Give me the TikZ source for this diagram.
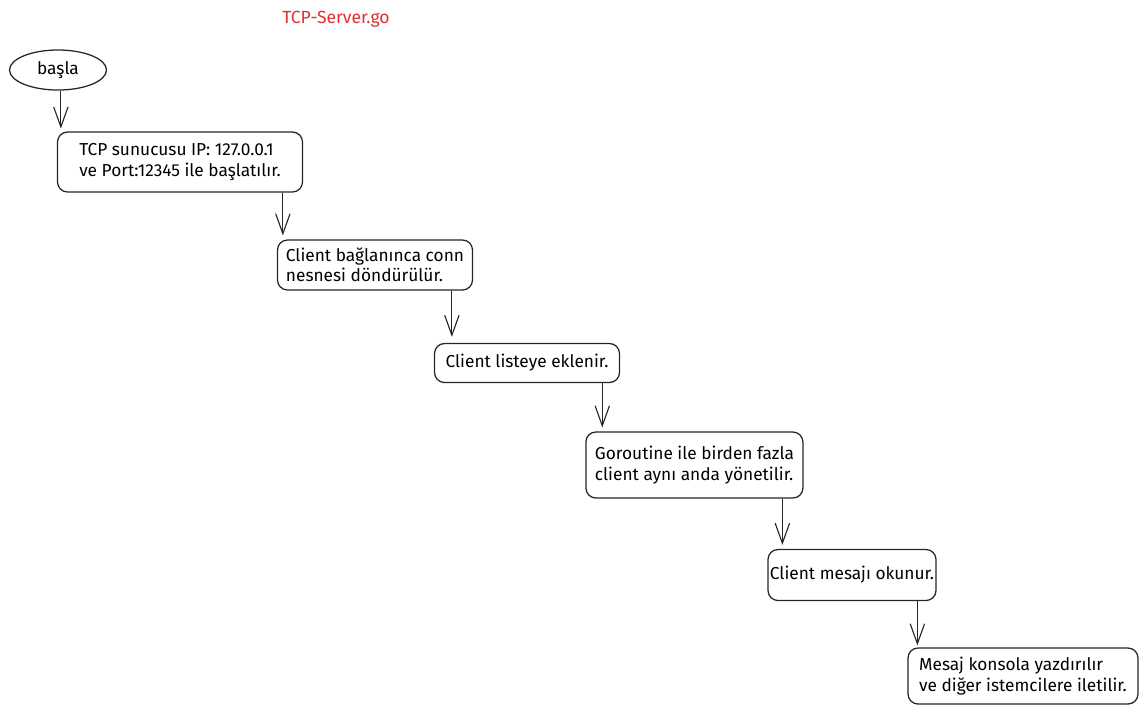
\documentclass[tikz,border=0pt]{standalone}
\usepackage{fontspec}
\setmainfont{Fira Sans}
\usepackage{xcolor}
\usetikzlibrary{shapes,arrows.meta,positioning,calc}
\definecolor{titlered}{HTML}{E03131}
\tikzset{
    stepbox/.style={draw=black!85, line width=0.9pt, rounded corners=0.25cm,
        align=left, inner sep=0pt, font=\fontsize{12.3}{14.5}\selectfont},
    startbox/.style={draw=black!85, line width=0.9pt, ellipse, inner sep=0pt,
        font=\fontsize{12.3}{14.5}\selectfont},
    flow/.style={draw=black!85, line width=0.8pt,
        -{Straight Barb[length=0.5cm,width=0.36cm,line width=0.8pt]}}
}
\begin{document}
\begin{tikzpicture}
            % page frame, 1 px = 0.025 cm
            \useasboundingbox (0,0) rectangle (28.7,-18.175);
            % file name on top
            \node[text=titlered, font=\fontsize{12.5}{14.5}\selectfont] (title) at (8.4,-0.475) {TCP-Server.go};
            % start
            \node[startbox, minimum width=2.425cm, minimum height=1.0cm] (start) at (1.45,-1.75) {başla};
            % steps, going down to the right
            \node[stepbox, minimum width=6.125cm, minimum height=1.5cm] (listen) at (4.5,-4.05)
                {TCP sunucusu IP: 127.0.0.1\\ve Port:12345 ile başlatılır.};
            \node[stepbox, minimum width=4.875cm, minimum height=1.25cm] (accept) at (9.375,-6.625)
                {Client bağlanınca conn\\nesnesi döndürülür.};
            \node[stepbox, minimum width=4.625cm, minimum height=0.975cm] (addlist) at (13.175,-9.075)
                {Client listeye eklenir.};
            \node[stepbox, minimum width=5.425cm, minimum height=1.65cm] (goroutine) at (17.36,-11.625)
                {Goroutine ile birden fazla\\client aynı anda yönetilir.};
            \node[stepbox, minimum width=4.2cm, minimum height=1.275cm] (readmsg) at (21.3,-14.375)
                {Client mesajı okunur.};
            \node[stepbox, minimum width=5.75cm, minimum height=1.4cm] (broadcast) at (25.575,-16.9)
                {Mesaj konsola yazdırılır\\ve diğer istemcilere iletilir.};

            % arrow ends, a bit right of each box's left side
            \coordinate (in1) at ($(listen.north west)+(0.1,0.07)$);
            \coordinate (in2) at ($(accept.north west)+(0.15,0.1)$);
            \coordinate (in3) at ($(addlist.north west)+(0.45,0.15)$);
            \coordinate (in4) at ($(goroutine.north west)+(0.425,0.1)$);
            \coordinate (in5) at ($(readmsg.north west)+(0.375,0.1)$);
            \coordinate (in6) at ($(broadcast.north west)+(0.25,0.05)$);

            \draw[flow] (start.south -| in1) -- (in1);
            \draw[flow] (listen.south -| in2) -- (in2);
            \draw[flow] (accept.south -| in3) -- (in3);
            \draw[flow] (addlist.south -| in4) -- (in4);
            \draw[flow] (goroutine.south -| in5) -- (in5);
            \draw[flow] (readmsg.south -| in6) -- (in6);
        \end{tikzpicture}
\end{document}
